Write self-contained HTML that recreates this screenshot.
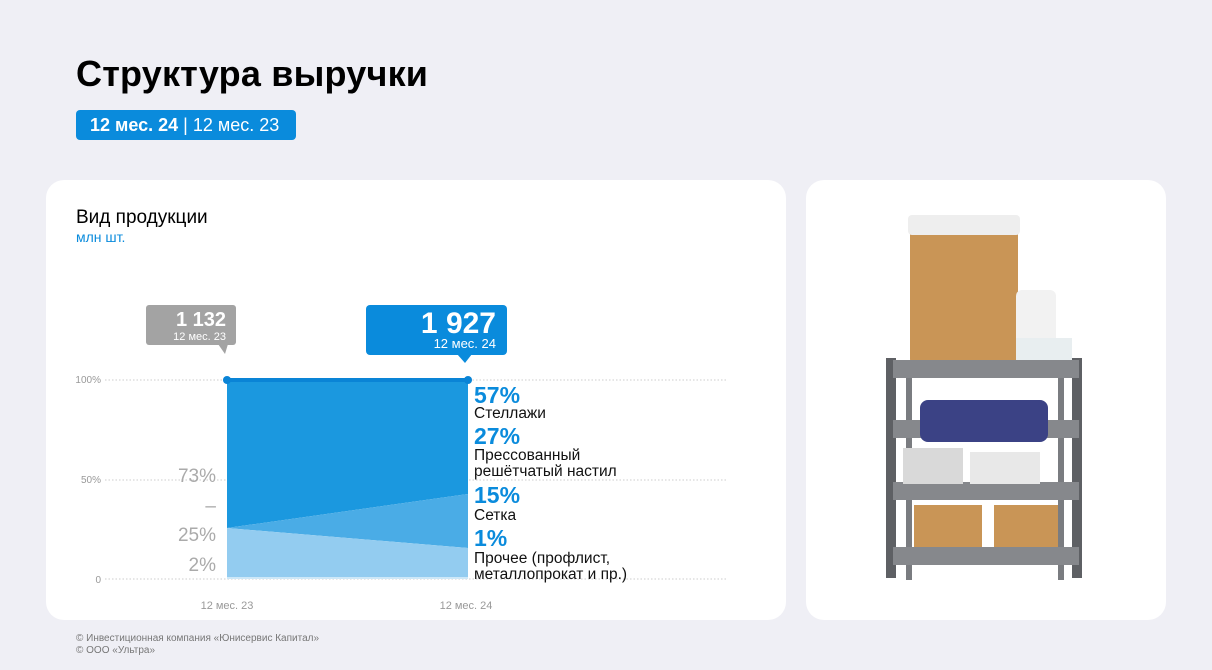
<!DOCTYPE html>
<html><head><meta charset="utf-8"><style>
body{margin:0;width:1212px;height:670px;background:#efeff5;font-family:"Liberation Sans",sans-serif;position:relative;overflow:hidden}
.a{position:absolute}
</style></head><body>
<div class="a" style="left:76px;top:53px;font-size:36px;font-weight:bold;color:#000;letter-spacing:0.2px">Структура выручки</div>
<div class="a" style="left:76px;top:110px;width:220px;height:30px;background:#0a8bdc;border-radius:4px;color:#fff;font-size:18px;line-height:30px;box-sizing:border-box;padding-left:14px;white-space:nowrap"><b>12 мес. 24</b> | 12 мес. 23</div>
<div class="a" style="left:46px;top:180px;width:740px;height:440px;background:#fff;border-radius:18px"></div>
<div class="a" style="left:806px;top:180px;width:360px;height:440px;background:#fff;border-radius:18px"></div>
<div class="a" style="left:76px;top:207px;font-size:19px;color:#000;font-weight:500">Вид продукции</div>
<div class="a" style="left:76px;top:229px;font-size:14px;color:#0a8bdc">млн шт.</div>
<svg class="a" style="left:0;top:0" width="1212" height="670">
<g stroke="#ccc" stroke-dasharray="1.5 2" stroke-width="1"><line x1="105" y1="380" x2="728" y2="380"/><line x1="105" y1="480" x2="728" y2="480"/><line x1="105" y1="579" x2="728" y2="579"/></g>
<g font-size="10" fill="#999" text-anchor="end"><text x="101" y="383">100%</text><text x="101" y="483">50%</text><text x="101" y="583">0</text></g>
<polygon points="227,380 468,380 468,494 227,528" fill="#1b98df"/>
<polygon points="227,528 468,494 468,548" fill="#4aace6"/>
<polygon points="227,528 468,548 468,577 227,577" fill="#93ccf0"/>
<rect x="227" y="577" width="241" height="2" fill="#cde8f8"/>
<line x1="227" y1="380" x2="468" y2="380" stroke="#0a84d6" stroke-width="4"/>
<circle cx="227" cy="380" r="4" fill="#0a84d6"/><circle cx="468" cy="380" r="4" fill="#0a84d6"/>
<g font-size="19" fill="#aaa" text-anchor="end"><text x="216" y="482">73%</text><text x="216" y="512">–</text><text x="216" y="541">25%</text><text x="216" y="571">2%</text></g>
<g font-size="11" fill="#999" text-anchor="middle"><text x="227" y="609">12 мес. 23</text><text x="466" y="609">12 мес. 24</text></g>
<rect x="146" y="305" width="90" height="40" rx="3" fill="#a3a3a3"/><polygon points="218,344 228,344 225,354" fill="#a3a3a3"/>
<text x="226" y="326" font-size="20" font-weight="bold" fill="#fff" text-anchor="end">1 132</text>
<text x="226" y="340" font-size="11" fill="#fff" text-anchor="end">12 мес. 23</text>
<rect x="366" y="305" width="141" height="50" rx="4" fill="#0a8bdc"/><polygon points="457,354 472,354 465,363" fill="#0a8bdc"/>
<text x="496" y="333" font-size="30" font-weight="bold" fill="#fff" text-anchor="end">1 927</text>
<text x="496" y="348" font-size="13" fill="#fff" text-anchor="end">12 мес. 24</text>
<g font-size="23" font-weight="bold" fill="#0a8bdc"><text x="474" y="403">57%</text><text x="474" y="444">27%</text><text x="474" y="503">15%</text><text x="474" y="546">1%</text></g>
<g font-size="15.5" fill="#111"><text x="474" y="418">Стеллажи</text><text x="474" y="460">Прессованный</text><text x="474" y="476">решётчатый настил</text><text x="474" y="520">Сетка</text><text x="474" y="563">Прочее (профлист,</text><text x="474" y="579">металлопрокат и пр.)</text></g>
<g>
<rect x="910" y="220" width="108" height="145" fill="#c99556" rx="6"/>
<rect x="908" y="215" width="112" height="20" fill="#eee" rx="4"/>
<rect x="1016" y="290" width="40" height="75" fill="#f2f2f2" rx="6"/>
<rect x="1016" y="338" width="56" height="28" fill="#e8eef0"/>
<rect x="886" y="358" width="10" height="220" fill="#5e6064"/><rect x="1072" y="358" width="10" height="220" fill="#5e6064"/>
<rect x="906" y="370" width="6" height="210" fill="#7a7c80"/><rect x="1058" y="370" width="6" height="210" fill="#7a7c80"/>
<rect x="893" y="360" width="186" height="18" fill="#86888c"/>
<rect x="893" y="420" width="186" height="18" fill="#86888c"/>
<rect x="893" y="482" width="186" height="18" fill="#86888c"/>
<rect x="893" y="547" width="186" height="18" fill="#86888c"/>
<rect x="920" y="400" width="128" height="42" fill="#3b4285" rx="8"/>
<rect x="903" y="448" width="60" height="36" fill="#d9d9d9"/>
<rect x="970" y="452" width="70" height="32" fill="#e8e8e8"/>
<rect x="914" y="505" width="68" height="42" fill="#c99556"/><rect x="994" y="505" width="64" height="42" fill="#c99556"/>
</g>
</svg>
<div class="a" style="left:76px;top:633px;font-size:10px;color:#777;line-height:12px">© Инвестиционная компания «Юнисервис Капитал»<br>© ООО «Ультра»</div>
</body></html>
